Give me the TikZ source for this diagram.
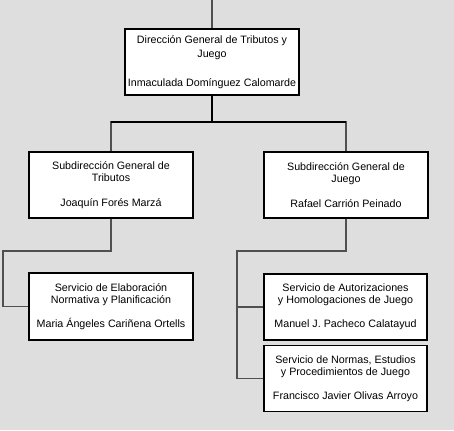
\documentclass[tikz,border=0pt]{standalone}
\usepackage{fontspec}
\setmainfont{Liberation Sans}
\definecolor{bggray}{RGB}{222,222,222}
\definecolor{linkgray}{RGB}{80,80,80}
\tikzset{
  unitbox/.style={draw=black, line width=1.1pt, fill=white, inner sep=1pt,
    align=center, font=\fontsize{10.7}{12}\selectfont,
    minimum width=164pt, minimum height=66pt},
  link/.style={draw=linkgray, line width=1.1pt}
}
\begin{document}
\begin{tikzpicture}[x=1pt, y=-1pt]
    % Background
    \fill[bggray] (0,0) rectangle (454,430);
    \useasboundingbox (0,0) rectangle (454,430);

    % Dirección General
    \node[unitbox, minimum width=174pt] (dirgen) at (212,62)
        {Dirección General de Tributos y\\[2.3pt] Juego\\[17pt] Inmaculada Domínguez Calomarde};

    % Subdirecciones
    \node[unitbox] (subtrib) at (111,185)
        {Subdirección General de\\ Tributos\\[13pt] Joaquín Forés Marzá};
    \node[unitbox] (subjuego) at (346,185)
        {Subdirección General de\\ Juego\\[13pt] Rafael Carrión Peinado};

    % Servicios
    \node[unitbox, minimum height=67pt] (servelab) at (111,306.5)
        {Servicio de Elaboración\\ Normativa y Planificación\\[12pt] Maria Ángeles Cariñena Ortells};
    \node[unitbox, minimum width=163pt, minimum height=66pt] (servautor) at (345.5,307)
        {Servicio de Autorizaciones\\ y Homologaciones de Juego\\[12pt] Manuel J. Pacheco Calatayud};
    \node[unitbox, minimum width=163pt, minimum height=66pt] (servnormas) at (345.5,378.5)
        {Servicio de Normas, Estudios\\ y Procedimientos de Juego\\[12pt] Francisco Javier Olivas Arroyo};

    % Connectors
    \coordinate (stem) at (212,0);
    \coordinate (split) at (212,122);
    \coordinate (ltrunk) at (3,251);
    \coordinate (rtrunk) at (237,251);
    \draw[link, line width=1.3pt] (stem) -- (dirgen.north);
    \draw[link, draw=black] (dirgen.south) -- (split);
    \draw[link] (subtrib.north) |- (split) -| (subjuego.north);
    \draw[link, draw=black] (subtrib.north |- split) -- (subjuego.north |- split);
    \draw[link] (subtrib.south) |- (ltrunk) |- (servelab.west);
    \draw[link] (subjuego.south) |- (rtrunk) |- (servnormas.west);
    \draw[link] (servautor.west) -- (servautor.west -| rtrunk);
\end{tikzpicture}
\end{document}
